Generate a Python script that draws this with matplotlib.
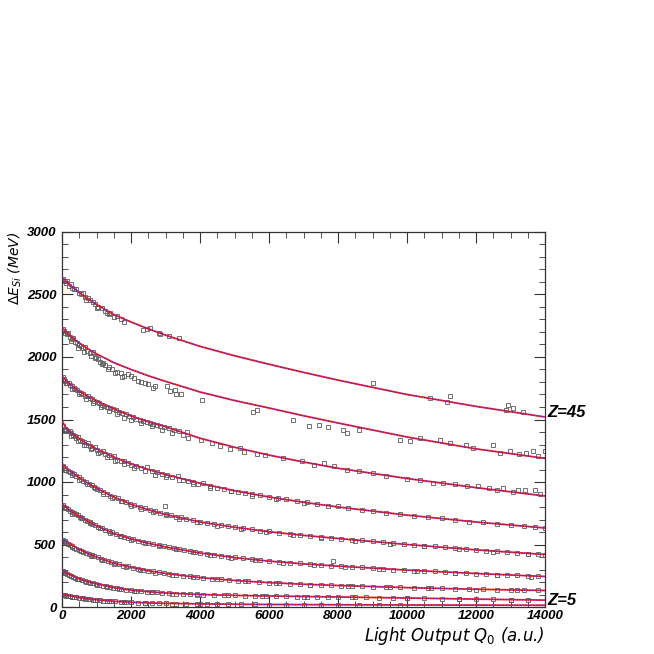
import numpy as np
import matplotlib
matplotlib.use("Agg")
import matplotlib.pyplot as plt
from matplotlib.ticker import MultipleLocator

plt.rcParams['mathtext.fontset'] = 'custom'
plt.rcParams['mathtext.rm'] = 'DejaVu Sans'
plt.rcParams['mathtext.it'] = 'DejaVu Sans:italic'

# ---------------- data ----------------
charges = [45, 40, 35, 30, 25, 20, 15, 10, 5]
curve_q = [0, 100, 250, 500, 750, 1000, 1500, 2000, 2500, 3000, 4000, 5000, 6000, 7000, 8000, 10000, 12000, 14000]
curve_z45 = [2640, 2610, 2572, 2515, 2465, 2420, 2340, 2280, 2225, 2175, 2085, 2010, 1942, 1877, 1815, 1700, 1605, 1520]
curve_z40 = [2240, 2205, 2165, 2112, 2066, 2025, 1955, 1900, 1850, 1805, 1720, 1652, 1592, 1530, 1472, 1360, 1265, 1189]
curve_z35 = [1850, 1815, 1780, 1725, 1685, 1648, 1585, 1528, 1482, 1442, 1350, 1278, 1215, 1160, 1110, 1028, 955, 888]
curve_z30 = [1490, 1440, 1398, 1345, 1302, 1265, 1200, 1145, 1100, 1060, 990, 930, 880, 838, 800, 735, 680, 632]
curve_z25 = [1150, 1115, 1085, 1035, 990, 950, 880, 822, 778, 740, 680, 638, 602, 573, 548, 500, 457, 420]
curve_z20 = [830, 800, 770, 725, 685, 650, 588, 545, 510, 480, 432, 395, 367, 345, 327, 295, 268, 244]
curve_z15 = [550, 525, 500, 462, 428, 400, 350, 318, 290, 268, 235, 212, 195, 182, 172, 155, 142, 132]
curve_z10 = [296, 275, 255, 225, 203, 185, 155, 135, 122, 112, 100, 93, 88, 84, 80, 72, 63, 55]
curve_z5 = [104, 96, 88, 76, 66, 58, 46, 38, 33, 29, 25, 22, 20, 19, 18, 16, 15, 14]
curves = [curve_z45, curve_z40, curve_z35, curve_z30, curve_z25, curve_z20, curve_z15, curve_z10, curve_z5]

pts_z45 = [(30,2625),(80,2610),(120,2590),(150,2605),(200,2570),(260,2580),(300,2555),(350,2540),
           (420,2545),(480,2515),(550,2500),(600,2510),(680,2480),(750,2470),(820,2455),(900,2440),
           (950,2420),(1050,2400),(1150,2395),(1250,2370),(1350,2340),(1400,2355),(1500,2320),
           (1600,2330),(1700,2300),(2350,2215),(2450,2225),(2550,2230),(2800,2195),(2850,2180),
           (3100,2165),(3400,2150),(9000,1790),(10670,1670),(11250,1690),(11150,1640),(12930,1613),
           (13070,1590),(12880,1574),(13370,1560),(700,2455),(1000,2390),(1300,2355),(1800,2280)]
pts_z40 = [(20,2225),(60,2210),(100,2195),(140,2180),(180,2190),(230,2160),(280,2140),(330,2150),
           (380,2120),(430,2110),(500,2095),(560,2085),(620,2070),(680,2080),(720,2050),(800,2030),
           (850,2010),(900,2040),(980,2000),(1050,1985),(1100,1960),(1200,1950),(1250,1935),
           (1350,1920),(1450,1900),(1600,1880),(1700,1870),(1800,1850),(1900,1860),(2100,1830),
           (2300,1800),(2400,1790),(2500,1781),(2700,1765),(3030,1765),(3130,1728),(3280,1734),
           (3450,1702),(4050,1654),(5545,1560),(5640,1575),(6700,1500),(7150,1451),(7440,1460),
           (7720,1440),(8150,1420),(8270,1390),(8600,1420),(9800,1340),(10100,1325),(10380,1350),
           (10960,1340),(11250,1310),(11700,1300),(11900,1270),(12500,1295),(12700,1230),
           (12990,1250),(13250,1225),(13450,1235),(13650,1250),(13800,1210),(14000,1245),
           (250,2130),(450,2075),(650,2040),(950,1990),(1150,1940),(1320,1900),(1550,1870),
           (1750,1840),(2000,1850),(2200,1810),(2650,1750),(3300,1700)]
pts_z35 = [(20,1840),(60,1825),(100,1810),(150,1795),(190,1790),(240,1772),(290,1765),(340,1752),
           (390,1745),(440,1732),(500,1720),(560,1712),(620,1702),(680,1690),(740,1685),(800,1670),
           (870,1660),(940,1648),(1010,1640),(1080,1628),(1150,1618),(1230,1608),(1310,1598),
           (1390,1590),(1470,1580),(1560,1572),(1650,1560),(1750,1550),(1850,1540),(1950,1530),
           (2050,1520),(2150,1508),(2250,1500),(2350,1490),(2450,1482),(2550,1476),(2650,1466),
           (2750,1458),(2850,1448),(2950,1440),(3100,1432),(3250,1418),(3400,1405),(3610,1400),
           (3660,1352),(4020,1340),(4340,1312),(4580,1285),(4870,1262),(5150,1270),(5270,1240),
           (5640,1225),(5880,1215),(6420,1195),(6950,1165),(7290,1140),(7580,1150),(7870,1125),
           (8250,1100),(8600,1085),(9000,1070),(9400,1050),(9990,1027),(10380,1014),(10760,995),
           (11050,990),(11390,987),(11730,966),(12070,970),(12390,950),(12600,939),(12780,955),
           (13070,920),(13220,939),(13420,933),(13710,933),(13860,907),
           (130,1790),(300,1745),(480,1700),(700,1662),(900,1628),(1120,1600),(1350,1570),
           (1600,1540),(1800,1515),(2000,1500),(2300,1470),(2600,1445),(2900,1420),(3200,1395),
           (3500,1380)]
pts_z30 = [(40,1445),(90,1425),(130,1420),(180,1405),(220,1405),(270,1390),(320,1378),(370,1370),
           (420,1352),(470,1358),(520,1335),(580,1325),(640,1318),(700,1300),(760,1310),(820,1285),
           (880,1270),(950,1278),(1020,1255),(1100,1240),(1180,1248),(1260,1222),(1350,1215),
           (1430,1198),(1520,1205),(1600,1180),(1700,1172),(1800,1168),(1900,1150),(2000,1140),
           (2150,1128),(2300,1112),(2450,1120),(2600,1090),(2750,1082),(2900,1066),(3050,1058),
           (3200,1040),(3350,1045),(3500,1020),(3650,1012),(3800,1000),(3950,985),(4100,992),
           (4300,968),(4500,955),(4700,948),(4900,932),(5100,922),(5300,915),(5500,905),(5750,898),
           (6000,880),(6250,870),(6500,865),(6800,845),(7100,840),(7400,825),(7700,812),(8000,805),
           (8300,790),(8700,775),(9000,770),(9400,755),(9800,742),(10200,730),(10600,722),
           (11000,712),(11400,700),(11800,682),(12200,680),(12600,664),(13000,660),(13400,648),
           (13700,638),(14000,630),
           (100,1410),(250,1372),(450,1330),(650,1295),(850,1262),(1050,1232),(1300,1200),
           (1550,1172),(1800,1145),(2100,1110),(2400,1085),(2700,1060),(3000,1040),(3400,1015),
           (3800,985),(4300,955),(4900,925),(5500,890),(6200,862),(7000,830)]
pts_z25 = [(30,1130),(80,1110),(130,1100),(180,1090),(240,1080),(300,1070),(360,1062),(420,1045),
           (480,1040),(550,1025),(620,1012),(700,1000),(780,985),(860,975),(940,960),(1020,945),
           (1100,935),(1200,918),(1300,905),(1400,892),(1500,878),(1620,870),(1740,852),(1860,840),
           (1980,826),(2100,815),(2250,802),(2400,790),(2550,778),(2700,768),(2850,752),(2985,805),
           (3000,742),(3150,735),(3300,722),(3450,718),(3600,705),(3800,695),(4000,682),(4200,672),
           (4400,668),(4600,655),(4800,648),(5000,640),(5250,630),(5500,622),(5750,612),(6000,605),
           (6300,595),(6600,588),(6900,578),(7200,572),(7500,562),(7800,555),(8100,548),(8400,538),
           (8700,535),(9000,528),(9300,522),(9600,510),(9900,505),(10200,498),(10500,490),
           (10800,485),(11100,478),(11400,470),(11700,462),(12000,458),(12300,452),(12600,445),
           (12900,440),(13200,432),(13500,428),(13800,422),(14000,418),
           (100,1095),(280,1060),(500,1020),(720,985),(950,950),(1200,905),(1450,872),(1700,845),
           (2000,812),(2300,788),(2650,760),(3000,735),(3400,708),(3900,680),(4500,650),(5200,625),
           (5900,600),(6700,578),(7500,555),(8500,530),(9500,508),(10500,485),(11500,462),
           (12500,440),(13500,422)]
pts_z20 = [(30,815),(70,800),(120,790),(170,782),(220,772),(280,762),(340,752),(400,745),(460,735),
           (520,722),(590,712),(660,700),(730,690),(800,680),(880,668),(960,655),(1050,642),
           (1150,630),(1250,620),(1350,605),(1450,598),(1560,582),(1680,572),(1800,562),(1920,552),
           (2050,542),(2200,530),(2350,520),(2500,512),(2650,502),(2800,494),(2950,485),(3100,478),
           (3250,470),(3400,462),(3550,458),(3700,448),(3850,440),(4000,435),(4200,425),(4400,418),
           (4600,410),(4800,402),(5000,398),(5250,390),(5500,382),(5750,375),(6000,368),(6300,362),
           (6600,355),(6900,350),(7200,342),(7500,338),(7850,368),(7800,332),(8100,328),(8400,320),
           (8700,318),(9000,312),(9300,305),(9600,300),(9900,298),(10200,292),(10500,290),
           (10800,285),(11100,280),(11400,275),(11700,272),(12000,268),(12300,264),(12600,260),
           (12900,255),(13200,254),(13500,248),(13800,246),
           (100,790),(300,748),(550,710),(800,670),(1100,630),(1400,595),(1700,565),(2000,540),
           (2400,512),(2800,488),(3300,462),(3800,438),(4300,418),(4900,395),(5600,375),(6400,352),
           (7300,335),(8200,318),(9200,302),(10300,286),(11400,270),(12600,255),(13600,242)]
pts_z15 = [(30,540),(80,525),(130,515),(180,505),(240,496),(300,486),(360,476),(420,468),(480,460),
           (550,452),(620,442),(700,432),(780,422),(860,414),(940,405),(1030,398),(1120,388),
           (1220,378),(1320,368),(1420,358),(1530,350),(1650,342),(1780,332),(1900,325),(2050,315),
           (2200,305),(2350,298),(2500,292),(2650,285),(2800,278),(2950,270),(3100,265),(3300,260),
           (3500,252),(3700,246),(3900,238),(4100,235),(4350,228),(4600,222),(4850,215),(5100,212),
           (5400,205),(5700,200),(6000,195),(6300,190),(6600,186),(6900,183),(7200,180),(7500,177),
           (7800,174),(8100,172),(8400,170),(8700,166),(9000,164),(9400,162),(9800,158),(10200,154),
           (10600,152),(11000,150),(11400,146),(11800,143),(12200,142),(12600,138),(13000,137),
           (13400,134),(13800,133),
           (100,520),(300,480),(550,448),(850,408),(1150,378),(1500,345),(1850,322),(2250,298),
           (2700,276),(3200,258),(3800,240),(4500,222),(5300,206),(6200,190),(7200,178),(8300,168),
           (9500,158),(10700,150),(12000,140),(13200,134)]
pts_z10 = [(20,290),(60,278),(100,270),(150,262),(200,256),(260,248),(320,240),(380,232),(440,228),
           (500,222),(580,215),(660,208),(740,200),(820,195),(900,190),(980,185),(1080,178),
           (1180,172),(1280,166),(1380,160),(1480,156),(1600,150),(1720,145),(1850,140),(2000,136),
           (2150,132),(2300,128),(2450,124),(2600,120),(2750,118),(2900,114),(3100,111),(3300,108),
           (3500,106),(3700,103),(3900,101),(4100,99),(4400,97),(4700,95),(5000,93),(5300,92),
           (5600,90),(5900,88),(6200,87),(6500,86),(6800,84),(7100,83),(7400,82),(7700,81),
           (8000,80),(8400,79),(8800,78),(9200,76),(9600,74),(10000,72),(10500,70),(11000,68),
           (11500,66),(12000,64),(12500,61),(13000,60),(13500,57),
           (80,270),(250,245),(450,222),(700,200),(1000,180),(1300,162),(1650,145),(2100,130),
           (2600,118),(3200,108),(3900,100),(4800,94),(5800,88),(7000,84),(8500,78),(10000,71),
           (11500,65),(13000,58)]
pts_z5 = [(20,100),(60,96),(110,92),(160,90),(220,88),(280,84),(350,80),(420,78),(500,75),(580,72),
          (660,68),(740,66),(820,63),(900,60),(1000,58),(1100,55),(1200,52),(1300,50),(1420,48),
          (1550,45),(1700,43),(1850,40),(2000,38),(2200,36),(2400,34),(2600,32),(2800,30),(3000,29),
          (3300,28),(3600,26),(3900,25),(4200,24),(4500,23),(4800,22),(5200,21),(5600,21),(6000,20),
          (6500,19),(7000,19),(7500,18),(8000,18),(8600,17),(9200,17),(9800,16),
          (80,93),(300,82),(600,70),(950,58),(1350,47),(1800,40),(2400,33),(3200,27),(4000,24)]
points = [pts_z45, pts_z40, pts_z35, pts_z30, pts_z25, pts_z20, pts_z15, pts_z10, pts_z5]

x_ticks = [0, 2000, 4000, 6000, 8000, 10000, 12000, 14000]
y_ticks = [0, 500, 1000, 1500, 2000, 2500, 3000]
z_labels = ["Z=45", "Z=5"]
z_label_y = [1555, 55]

# ---------------- figure ----------------
fig = plt.figure(figsize=(6.54, 6.54), dpi=100)
ax = fig.add_axes([62/654, 47/654, 483/654, 375/654])

for pts in points:
    arr = np.array(pts, dtype=float)
    ax.plot(arr[:, 0], arr[:, 1], ls='none', marker='s', ms=3.3, mfc='none',
            mec='#5a5a5a', mew=0.6, zorder=2)

for vals in curves:
    ax.plot(curve_q, vals, color='#ff2020', lw=1.3, zorder=3, solid_capstyle='butt')
    ax.plot(curve_q, vals, color='#2020ff', lw=0.8, ls=(0, (1, 1.5)), zorder=4)

ax.set_xlim(0, 14000)
ax.set_ylim(0, 3000)
ax.set_xticks(x_ticks)
ax.set_yticks(y_ticks)
ax.xaxis.set_minor_locator(MultipleLocator(500))
ax.yaxis.set_minor_locator(MultipleLocator(100))
ax.tick_params(which='both', direction='in', top=True, right=True, color='#333333')
ax.tick_params(which='major', length=8, width=0.8)
ax.tick_params(which='minor', length=4, width=0.6)
ax.tick_params(axis='x', pad=2.5)
ax.tick_params(axis='y', pad=4)
for sp in ax.spines.values():
    sp.set_linewidth(0.9)
    sp.set_color('#333333')

tick_font = dict(family='Liberation Sans', weight='bold', style='italic', size=9.5)
ax.set_xticklabels([str(v) for v in x_ticks], fontdict=tick_font)
ax.set_yticklabels([str(v) for v in y_ticks], fontdict=tick_font)

ax.text(1.0, -0.047, 'Light Output $Q_0$ (a.u.)', transform=ax.transAxes, ha='right',
        va='top', fontsize=12, family='DejaVu Sans', style='italic')
fig.text(15/654, 1 - 232/654, r'$\Delta E_{Si}$ (MeV)', rotation=90, ha='center', va='top',
         fontsize=10, family='DejaVu Sans', style='italic')

for lab, yv in zip(z_labels, z_label_y):
    ax.text(14080, yv, lab, ha='left', va='center', fontsize=12,
            family='Liberation Sans', weight='bold', style='italic', clip_on=False)

fig.savefig('out.png', dpi=100)
